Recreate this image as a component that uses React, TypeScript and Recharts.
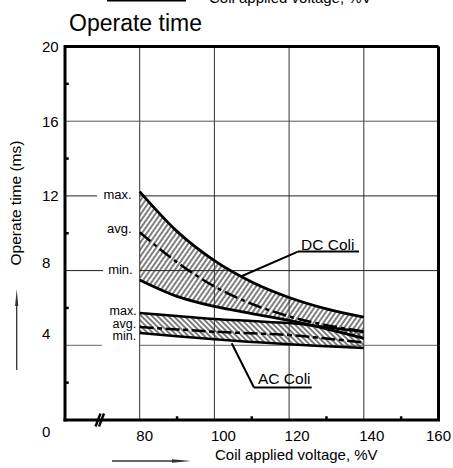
import React from 'react';
import { ComposedChart, Area, Line, XAxis, YAxis, ReferenceLine } from 'recharts';

// Coil applied voltage (%V)
const voltage = [80, 90, 100, 110, 120, 130, 140];
// DC coil operate time (ms)
const dcMax = [12.23, 10.1, 8.53, 7.39, 6.56, 5.95, 5.51];
const dcAvg = [10.05, 8.45, 7.15, 6.22, 5.55, 5.08, 4.75];
const dcMin = [7.5, 6.62, 6.08, 5.7, 5.33, 4.88, 4.37];
// AC coil operate time (ms)
const acMax = [5.73, 5.57, 5.41, 5.3, 5.19, 4.97, 4.73];
const acAvg = [4.98, 4.85, 4.73, 4.64, 4.55, 4.36, 4.15];
const acMin = [4.66, 4.48, 4.32, 4.18, 4.05, 3.95, 3.86];

const xTicks = [80, 100, 120, 140, 160];
const yTicks = [0, 4, 8, 12, 16, 20];
const xMinorTicks = [90, 110, 130, 150];
const yMinorTicks = [2, 6, 10, 14, 18];
const xGrid = [80, 100, 120, 140];

const rows = voltage.map((v, i) => ({
  v,
  dcMax: dcMax[i],
  dcAvg: dcAvg[i],
  dcMin: dcMin[i],
  acMax: acMax[i],
  acAvg: acAvg[i],
  acMin: acMin[i],
  dcBand: [dcMin[i], dcMax[i]],
  acBand: [acMin[i], acMax[i]],
}));

const FONT = '"Liberation Sans", Arial, Helvetica, sans-serif';

const yShift: Record<number, number> = { 20: 0, 16: 0, 12: 0, 8: -8, 4: -12, 0: 12 };
const xShift: Record<number, number> = { 80: 5, 100: 9, 120: 8, 140: 8, 160: 0 };

const YTick = (props: any) => {
  const { y, payload } = props;
  const s = yShift[payload.value] ?? 0;
  return (
    <text x={42} y={y + s + 5.4} fontSize={15} fontFamily={FONT} fill="#000" textAnchor="start">
      {payload.value}
    </text>
  );
};

const XTick = (props: any) => {
  const { x, payload } = props;
  const s = xShift[payload.value] ?? 0;
  return (
    <text x={x + s} y={441} fontSize={15} fontFamily={FONT} fill="#000" textAnchor="middle">
      {payload.value}
    </text>
  );
};

const G = '#333';

export default function App() {
  return (
    <div style={{ position: 'absolute', left: 0, top: 0, width: 453, height: 468, background: '#fff', overflow: 'hidden' }}>
      <ComposedChart width={453} height={468} data={rows} margin={{ top: 46.5, right: 14.5, bottom: 18, left: 5 }}>
        <defs>
          <pattern id="dcHatch" patternUnits="userSpaceOnUse" width={4.0} height={10} patternTransform="rotate(35)">
            <line x1={2} y1={0} x2={2} y2={10} stroke="#000" strokeWidth={1} />
          </pattern>
          <pattern id="acHatch" patternUnits="userSpaceOnUse" width={3.8} height={10} patternTransform="rotate(-45)">
            <line x1={1.9} y1={0} x2={1.9} y2={10} stroke="#000" strokeWidth={1} />
          </pattern>
        </defs>
        <XAxis
          type="number"
          dataKey="v"
          domain={[60, 160]}
          ticks={xTicks}
          interval={0}
          height={30}
          tickSize={0}
          tickMargin={0}
          tickLine={false}
          tick={<XTick />}
          axisLine={{ stroke: '#000', strokeWidth: 3, strokeLinecap: 'square' }}
          allowDataOverflow
        />
        <YAxis
          type="number"
          domain={[0, 20]}
          ticks={yTicks}
          interval={0}
          width={60}
          tickSize={0}
          tickMargin={0}
          tickLine={false}
          tick={<YTick />}
          axisLine={{ stroke: '#000', strokeWidth: 3, strokeLinecap: 'square' }}
          allowDataOverflow
        />

        {xGrid.map((g) => (
          <ReferenceLine key={'vx' + g} x={g} stroke={G} strokeWidth={1} />
        ))}
        <ReferenceLine y={16} stroke="#555" strokeWidth={1} />
        <ReferenceLine segment={[{ x: 60, y: 12 }, { x: 68.6, y: 12 }]} stroke="#222" strokeWidth={1} />
        <ReferenceLine segment={[{ x: 80, y: 12 }, { x: 160, y: 12 }]} stroke="#222" strokeWidth={1} />
        <ReferenceLine segment={[{ x: 60, y: 8 }, { x: 70.2, y: 8 }]} stroke="#222" strokeWidth={1} />
        <ReferenceLine segment={[{ x: 80, y: 8 }, { x: 160, y: 8 }]} stroke="#222" strokeWidth={1} />
        <ReferenceLine segment={[{ x: 60, y: 4 }, { x: 69.9, y: 4 }]} stroke="#666" strokeWidth={1} />
        <ReferenceLine segment={[{ x: 80, y: 4 }, { x: 160, y: 4 }]} stroke="#666" strokeWidth={1} />

        {yMinorTicks.map((t) => (
          <ReferenceLine key={'ym' + t} segment={[{ x: 60, y: t }, { x: 61, y: t }]} stroke="#000" strokeWidth={2.5} />
        ))}
        {xMinorTicks.map((t) => (
          <ReferenceLine key={'xm' + t} segment={[{ x: t, y: 0 }, { x: t, y: 0.2 }]} stroke="#000" strokeWidth={2.5} />
        ))}

        <Area dataKey="dcBand" type="monotone" fill="url(#dcHatch)" fillOpacity={1} stroke="none" isAnimationActive={false} />
        <Area dataKey="acBand" type="monotone" fill="url(#acHatch)" fillOpacity={1} stroke="none" isAnimationActive={false} />

        <Line dataKey="dcMax" type="monotone" stroke="#000" strokeWidth={2.8} dot={false} isAnimationActive={false} />
        <Line dataKey="dcAvg" type="monotone" stroke="#000" strokeWidth={2.5} strokeDasharray="14 4 4 4" dot={false} isAnimationActive={false} />
        <Line dataKey="dcMin" type="monotone" stroke="#000" strokeWidth={2.8} dot={false} isAnimationActive={false} />
        <Line dataKey="acMax" type="monotone" stroke="#000" strokeWidth={2.5} dot={false} isAnimationActive={false} />
        <Line dataKey="acAvg" type="monotone" stroke="#000" strokeWidth={2.5} strokeDasharray="14 3.5 5 3.5" dot={false} isAnimationActive={false} />
        <Line dataKey="acMin" type="monotone" stroke="#000" strokeWidth={2.5} dot={false} isAnimationActive={false} />

        {/* annotation leaders */}
        <ReferenceLine segment={[{ x: 107.39, y: 7.71 }, { x: 122.38, y: 9.02 }]} stroke="#000" strokeWidth={2} />
        <ReferenceLine segment={[{ x: 122.38, y: 9.02 }, { x: 138.71, y: 9.02 }]} stroke="#000" strokeWidth={2} />
        <ReferenceLine segment={[{ x: 104.63, y: 4.11 }, { x: 110.6, y: 1.74 }]} stroke="#000" strokeWidth={2} />
        <ReferenceLine segment={[{ x: 110.6, y: 1.74 }, { x: 126.05, y: 1.74 }]} stroke="#000" strokeWidth={2} />

        <ReferenceLine y={20} stroke="#000" strokeWidth={3} />
        <ReferenceLine x={160} stroke="#000" strokeWidth={3} />
      </ComposedChart>

      <svg width={453} height={468} style={{ position: 'absolute', left: 0, top: 0, pointerEvents: 'none' }} fontFamily={FONT}>
        {/* cut-off repeated axis title at top */}
        <line x1={107} y1={0.8} x2={186} y2={0.8} stroke="#000" strokeWidth={1.5} />
        <text x={209} y={2.5} fontSize={15} fill="#000">Coil applied voltage, %V</text>

        <text x={69} y={31} fontSize={23} fill="#000">Operate time</text>

        <text transform="translate(20.5,203) rotate(-90)" fontSize={15.5} textAnchor="middle" fill="#000">
          Operate time (ms)
        </text>
        <line x1={16.7} y1={370} x2={16.7} y2={300} stroke="#333" strokeWidth={1.3} />
        <polygon points="16.7,289 15.1,306 18.3,306" fill="#333" />

        <line x1={112} y1={461} x2={178} y2={461} stroke="#333" strokeWidth={1.3} />
        <polygon points="191,461 172,459.3 172,462.7" fill="#333" />
        <text x={215} y={460} fontSize={15} fill="#000">Coil applied voltage, %V</text>

        {/* axis break */}
        <line x1={95.5} y1={426.5} x2={100.5} y2={413.5} stroke="#000" strokeWidth={2.4} />
        <line x1={99} y1={426.5} x2={104} y2={413.5} stroke="#000" strokeWidth={2.4} />

        <g fontSize={13} fill="#000" textAnchor="end">
          <text x={131.7} y={198.5}>max.</text>
          <text x={131.7} y={232.7}>avg.</text>
          <text x={132.7} y={273.5}>min.</text>
          <text x={136.7} y={315} fontSize={12.5}>max.</text>
          <text x={136.2} y={327.5} fontSize={12.5}>avg.</text>
          <text x={136.2} y={340} fontSize={12.5}>min.</text>
        </g>

        <text x={301} y={249.5} fontSize={15.5} fill="#000">DC Coli</text>
        <text x={258} y={383.5} fontSize={15.5} fill="#000">AC Coli</text>
      </svg>
    </div>
  );
}
